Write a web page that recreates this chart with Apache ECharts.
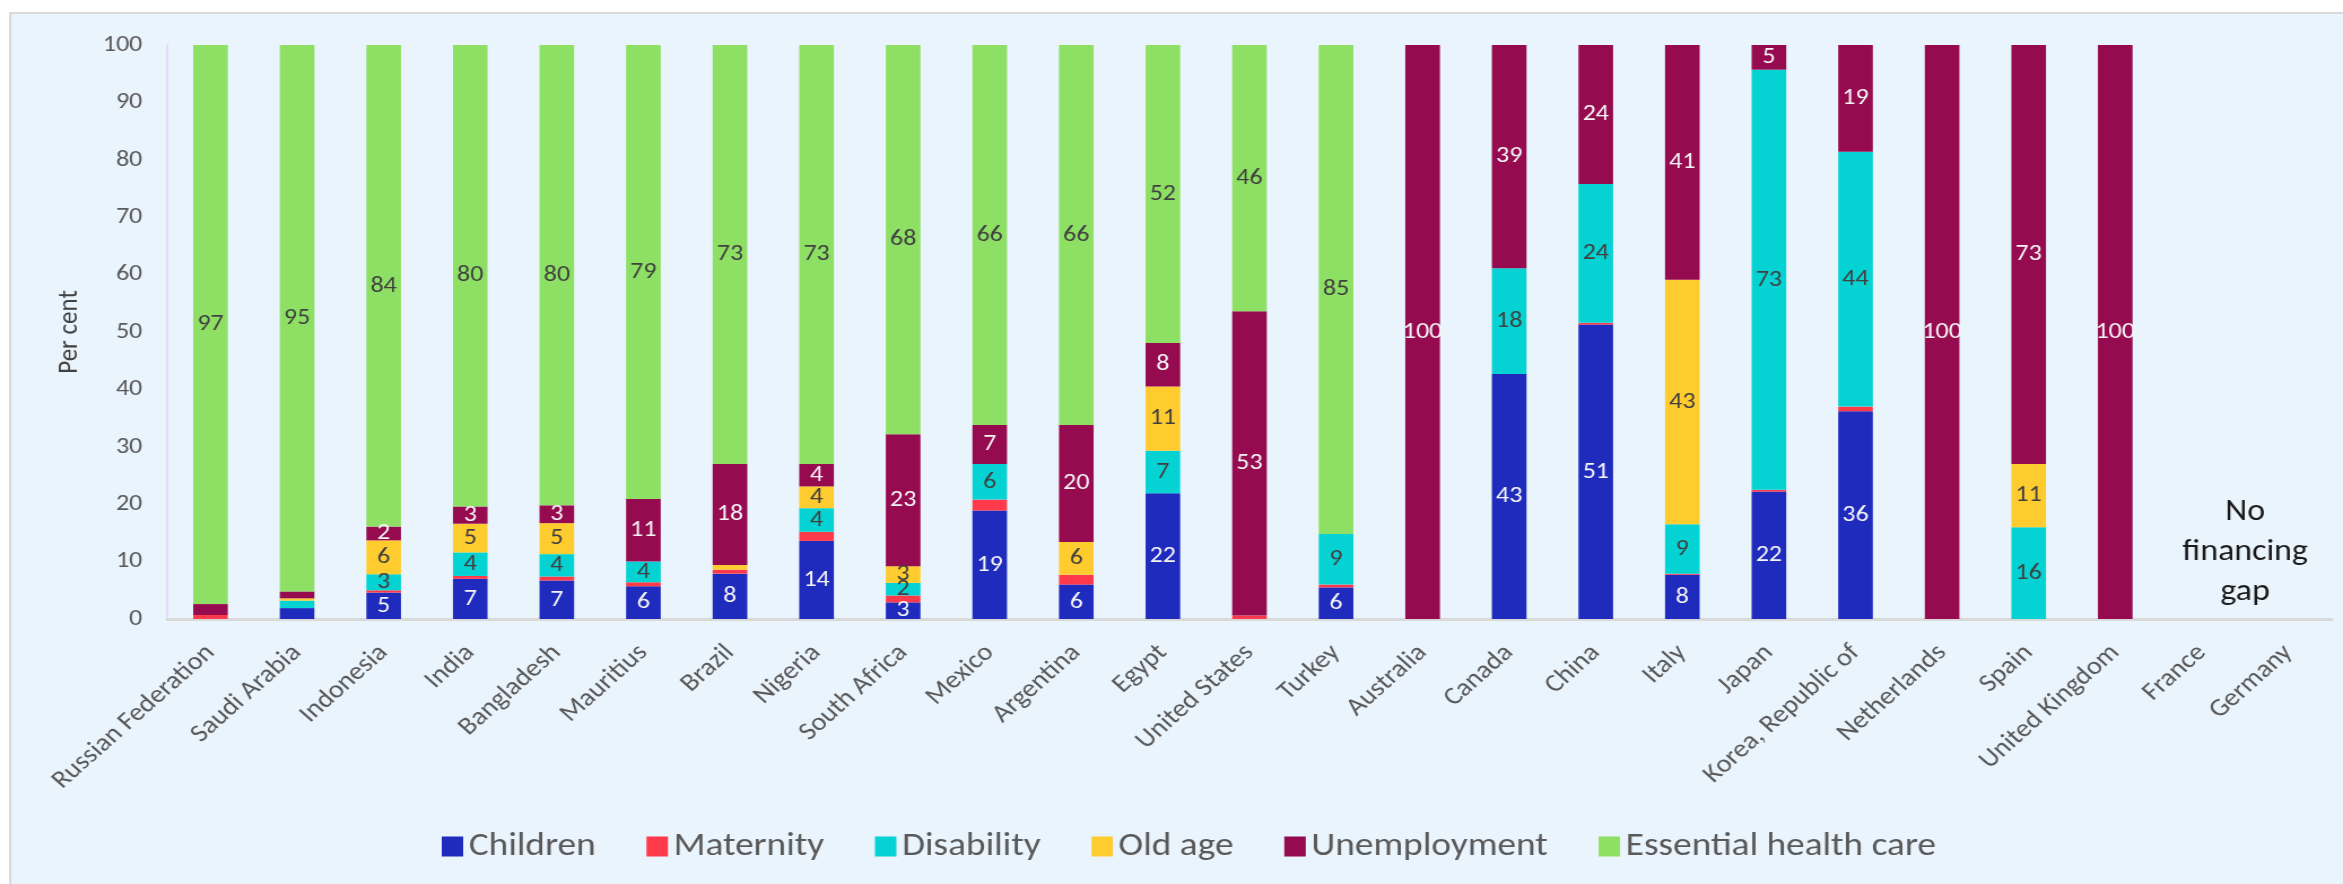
<!DOCTYPE html>
<html>
<head>
<meta charset="utf-8">
<script src="https://cdn.jsdelivr.net/npm/echarts@6/dist/echarts.min.js"></script>
<style>
html,body{margin:0;padding:0;background:#ffffff;}
#wrap{width:2343px;height:884px;overflow:hidden;position:relative;}
#chart{width:2074px;height:884px;transform:scaleX(1.1297);transform-origin:0 0;}
</style>
</head>
<body>
<div id="wrap"><div id="chart"></div></div>
<script>
const categories = ["Russian Federation","Saudi Arabia","Indonesia","India","Bangladesh","Mauritius","Brazil","Nigeria","South Africa","Mexico","Argentina","Egypt","United States","Turkey","Australia","Canada","China","Italy","Japan","Korea, Republic of","Netherlands","Spain","United Kingdom","France","Germany"];
const children     = [0, 1.9, 4.6, 7.0, 6.7, 5.7, 7.9, 13.6, 2.9, 18.9, 6.0, 21.9, 0, 5.5, 0, 42.7, 51.3, 7.7, 22.2, 36.2, 0, 0, 0, null, null];
const maternity    = [0.7, 0, 0.4, 0.5, 0.7, 0.7, 0.7, 1.6, 1.2, 1.9, 1.7, 0, 0.6, 0.5, 0, 0, 0.3, 0.2, 0.3, 0.8, 0, 0, 0, null, null];
const disability   = [0, 1.3, 2.8, 4.1, 3.9, 3.6, 0, 4.1, 2.2, 6.2, 0, 7.4, 0, 8.8, 0, 18.4, 24.2, 8.6, 73.2, 44.4, 0, 16.0, 0, null, null];
const oldAge       = [0, 0.4, 5.9, 5.0, 5.4, 0, 0.8, 3.8, 2.9, 0, 5.7, 11.2, 0, 0, 0, 0, 0, 42.6, 0, 0, 0, 11.0, 0, null, null];
const unemployment = [1.9, 1.2, 2.4, 3.0, 3.1, 10.9, 17.6, 3.9, 23.0, 6.8, 20.4, 7.6, 53.0, 0, 100, 38.9, 24.2, 40.9, 4.6, 18.6, 100, 73.0, 100, null, null];
const healthCare   = [97.4, 95.2, 83.9, 80.4, 80.2, 79.1, 73.0, 73.0, 67.8, 66.2, 66.2, 51.9, 46.4, 85.2, 0, 0, 0, 0, 0, 0, 0, 0, 0, null, null];
const yTicks = [0, 10, 20, 30, 40, 50, 60, 70, 80, 90, 100];
const noGapText = "No\nfinancing\ngap";

const FONT = "Carlito, Lato, 'Noto Sans', sans-serif";
const chart = echarts.init(document.getElementById('chart'), null, {renderer: 'canvas'});

function mkSeries(name, data, color, labelColor, showLabel) {
  return {
    name: name,
    type: 'bar',
    stack: 'total',
    data: data,
    barWidth: '40%',
    itemStyle: {color: color},
    emphasis: {disabled: true},
    label: {
      show: showLabel,
      position: 'inside',
      color: labelColor,
      fontFamily: FONT,
      fontSize: 23,
      formatter: p => (p.value == null || p.value < 2) ? '' : String(Math.round(p.value))
    }
  };
}

const bgRect = {
  type: 'rect', z: -10, silent: true,
  shape: {x: 9, y: 13, width: 2200, height: 1000},
  style: {fill: '#EAF4FD', stroke: '#D9D9D9', lineWidth: 2}
};

const option = {
  animation: false,
  backgroundColor: '#ffffff',
  textStyle: {fontFamily: FONT},
  graphic: [bgRect],
  grid: {left: 148, right: 10, top: 45, bottom: 265},
  legend: {
    bottom: 16,
    left: 386,
    itemWidth: 19,
    itemHeight: 20,
    itemGap: 45,
    icon: 'rect',
    textStyle: {fontFamily: FONT, fontSize: 33, color: '#595959'},
    data: ['Children','Maternity','Disability','Old age','Unemployment','Essential health care']
  },
  xAxis: {
    type: 'category',
    data: categories,
    axisLine: {lineStyle: {color: '#D9D9D9', width: 3}},
    axisTick: {show: false},
    axisLabel: {
      interval: 0, rotate: 45, margin: 30,
      fontFamily: FONT, fontSize: 25, color: '#595959'
    }
  },
  yAxis: {
    type: 'value',
    min: yTicks[0], max: yTicks[yTicks.length - 1], interval: yTicks[1] - yTicks[0],
    name: 'Per cent',
    nameLocation: 'middle',
    nameGap: 74,
    nameTextStyle: {fontFamily: FONT, fontSize: 25, color: '#404040'},
    axisLine: {show: true, lineStyle: {color: '#E6DAF7', width: 2}},
    axisTick: {show: false},
    splitLine: {show: false},
    axisLabel: {fontFamily: FONT, fontSize: 23, color: '#595959', margin: 22}
  },
  series: [
    mkSeries('Children', children, '#1F2BBD', '#F5F5F5', true),
    mkSeries('Maternity', maternity, '#FF3B4B', '#404040', false),
    mkSeries('Disability', disability, '#05D3D3', '#404040', true),
    mkSeries('Old age', oldAge, '#FFCC2F', '#404040', true),
    mkSeries('Unemployment', unemployment, '#960A50', '#F5F5F5', true),
    mkSeries('Essential health care', healthCare, '#8EE064', '#404040', true)
  ]
};
chart.setOption(option);

// place the "No financing gap" note between the last two categories
const pA = chart.convertToPixel({xAxisIndex: 0, yAxisIndex: 0}, [categories[categories.length - 2], 0]);
const pB = chart.convertToPixel({xAxisIndex: 0, yAxisIndex: 0}, [categories[categories.length - 1], 11.6]);
chart.setOption({
  graphic: [bgRect, {
    type: 'text', silent: true, z: 10,
    x: (pA[0] + pB[0]) / 2, y: pB[1],
    style: {
      text: noGapText, fontFamily: FONT, fontSize: 30, fill: '#1A1A1A',
      align: 'center', verticalAlign: 'middle', lineHeight: 40
    }
  }]
});
</script>
</body>
</html>
